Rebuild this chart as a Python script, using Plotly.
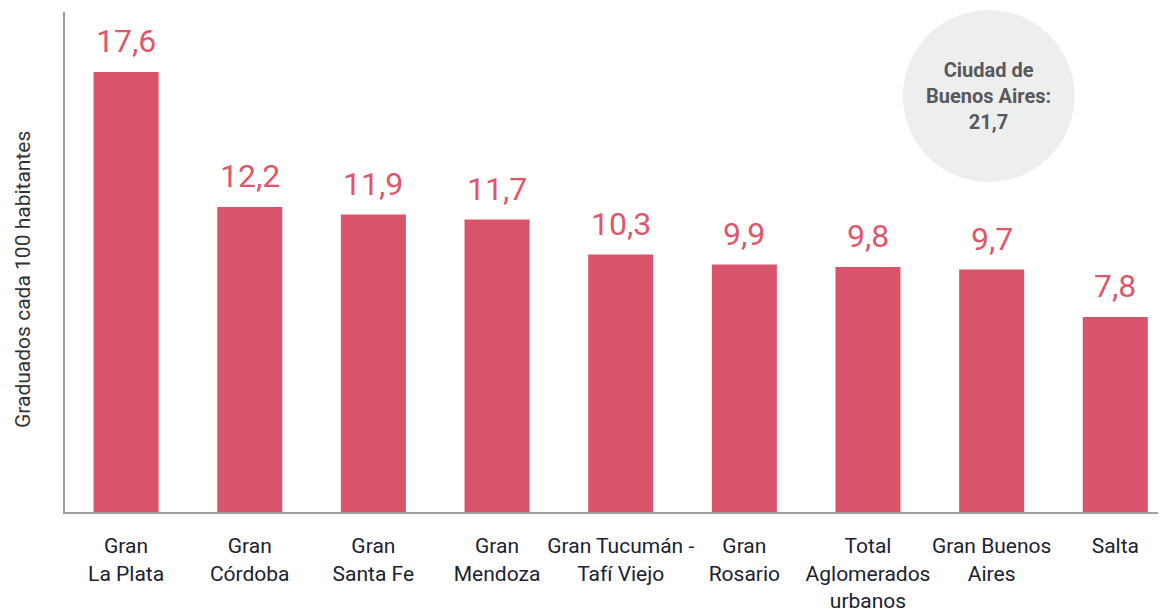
import plotly.graph_objects as go

categories = ["Gran<br>La Plata", "Gran<br>Córdoba", "Gran<br>Santa Fe", "Gran<br>Mendoza",
              "Gran Tucumán -<br>Tafí Viejo", "Gran<br>Rosario", "Total<br>Aglomerados<br>urbanos",
              "Gran Buenos<br>Aires", "Salta"]
values = [17.6, 12.2, 11.9, 11.7, 10.3, 9.9, 9.8, 9.7, 7.8]
value_labels = ["17,6", "12,2", "11,9", "11,7", "10,3", "9,9", "9,8", "9,7", "7,8"]
caba_label = "Ciudad de<br>Buenos Aires:<br>21,7"
y_title = "Graduados cada 100 habitantes"

BAR = "#D9546A"
FONT = "Roboto, 'Noto Sans', sans-serif"

fig = go.Figure(go.Bar(x=list(range(len(categories))), y=values, marker_color=BAR,
                       marker_line_width=0, hoverinfo="skip"))

for i, (v, t) in enumerate(zip(values, value_labels)):
    fig.add_annotation(x=i, y=v, text=t, showarrow=False, yanchor="middle", yshift=31,
                       font=dict(family=FONT, size=32, color="#E0566B"))

fig.add_shape(type="circle", xref="paper", yref="paper", x0=0.761, x1=0.917, y0=0.66, y1=1.004,
              fillcolor="#EDEEEE", line_width=0, layer="below")
fig.add_annotation(xref="paper", yref="paper", x=0.839, y=0.832, text=caba_label, showarrow=False,
                   xanchor="center", yanchor="middle",
                   align="center", font=dict(family=FONT, size=20, color="#58585D", weight="bold"))

fig.add_annotation(xref="paper", yref="paper", x=0, y=0.464, xshift=-42, text=y_title,
                   textangle=-90, showarrow=False, xanchor="center", yanchor="middle",
                   font=dict(family=FONT, size=21, color="#333333"))

fig.update_layout(
    width=1158, height=605, margin=dict(l=57, r=0, t=4, b=101),
    plot_bgcolor="white", paper_bgcolor="white", bargap=0.474, showlegend=False,
    xaxis=dict(range=[-0.494, 8.41], tickmode="array", tickvals=list(range(len(categories))),
               ticktext=categories, showline=True, linecolor="#A0A0A0", linewidth=2,
               showgrid=False, zeroline=False, ticks="", ticklabelstandoff=14,
               tickangle=0, automargin=False,
               tickfont=dict(family=FONT, size=21, color="#1A2233")),
    yaxis=dict(range=[0, 20], showline=True, linecolor="#A0A0A0", linewidth=2,
               showgrid=False, zeroline=False, showticklabels=False, ticks="", automargin=False),
)

fig.write_html("out.html")
